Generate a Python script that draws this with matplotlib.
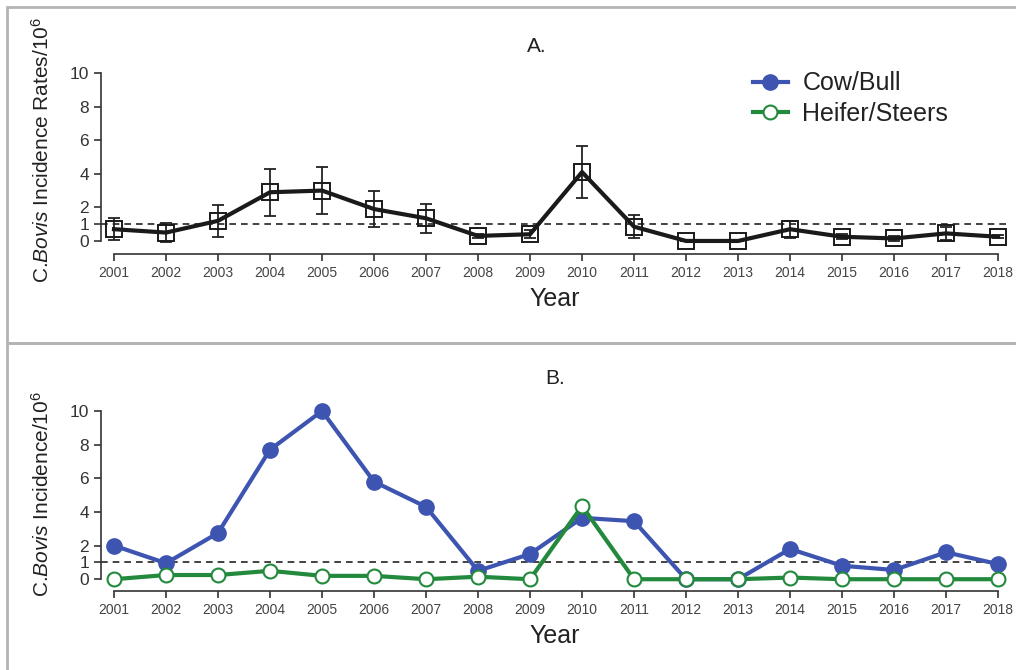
import matplotlib
matplotlib.use('Agg')
import matplotlib.pyplot as plt
from matplotlib.lines import Line2D
from matplotlib.patches import Rectangle

plt.rcParams['font.family'] = ['Liberation Sans', 'DejaVu Sans']
plt.rcParams['mathtext.fontset'] = 'custom'
plt.rcParams['mathtext.rm'] = 'Liberation Sans'
plt.rcParams['mathtext.it'] = 'Liberation Sans:italic'

# ─── Data ─────────────────────────────────────────────
years = list(range(2001, 2019))
rate_mean = [0.7, 0.5, 1.2, 2.9, 3.0, 1.9, 1.35, 0.3, 0.4, 4.1,
             0.85, 0.0, 0.0, 0.7, 0.25, 0.15, 0.45, 0.25]
rate_err = [0.65, 0.55, 0.95, 1.4, 1.4, 1.05, 0.85, 0.1, 0.25, 1.55,
            0.7, 0.0, 0.0, 0.5, 0.15, 0.15, 0.4, 0.1]
cow_bull = [2.0, 0.95, 2.75, 7.7, 10.0, 5.8, 4.3, 0.5, 1.5, 3.65,
            3.45, 0.0, 0.0, 1.8, 0.8, 0.55, 1.6, 0.9]
heifer_steers = [0.0, 0.25, 0.25, 0.5, 0.2, 0.2, 0.0, 0.15, 0.0, 4.35,
                 0.0, 0.0, 0.0, 0.1, 0.0, 0.0, 0.0, 0.0]
y_ticks = [0, 1, 2, 4, 6, 8, 10]

BLUE = '#3D55B0'
GREEN = '#23893D'
BORDER = '#B4B4B4'

fig = plt.figure(figsize=(10.16, 6.70), dpi=100)
fig.patch.set_facecolor('white')

# panel frames
fig.add_artist(Rectangle((7 / 1016, 1 - 343 / 670), 1.2, 336 / 670,
                         transform=fig.transFigure, fill=False, ec=BORDER, lw=2))
fig.add_artist(Rectangle((7 / 1016, -0.2), 1.2, 1 - 343 / 670 + 0.2,
                         transform=fig.transFigure, fill=False, ec=BORDER, lw=2))

axA = fig.add_axes([101 / 1016, 1 - 254.4 / 670, 908 / 1016, 189.8 / 670])
axB = fig.add_axes([101 / 1016, 1 - 591 / 670, 908 / 1016, 188.4 / 670])


def style_axis(ax, ybottom):
    ax.set_xlim(2000.75, 2018.21)
    ax.set_ylim(ybottom, 10.5)
    for s in ['top', 'right']:
        ax.spines[s].set_visible(False)
    ax.spines['left'].set_bounds(0, 10)
    ax.spines['bottom'].set_bounds(2001, 2018)
    for s in ['left', 'bottom']:
        ax.spines[s].set_linewidth(1.2)
        ax.spines[s].set_color('#333333')
    ax.set_yticks(y_ticks)
    ax.set_xticks(years)
    ax.tick_params(axis='y', labelsize=12.5, length=5, width=1.2,
                   colors='#333333', labelcolor='#333333')
    ax.tick_params(axis='x', labelsize=10, length=5, width=1.2,
                   colors='#333333', labelcolor='#444444')
    ax.axhline(1, color='#222222', ls=(0, (4, 3)), lw=1.2, zorder=1)
    ax.set_xlabel('Year', fontsize=18, color='#222222', labelpad=5)
    ax.patch.set_alpha(0)


# ─── Panel A ─────────────────────────────────────────
style_axis(axA, -0.8)
axA.errorbar(years, rate_mean, yerr=rate_err, fmt='none', ecolor='#222222',
             elinewidth=1.3, capsize=4, capthick=1.3, zorder=2)
axA.plot(years, rate_mean, color='#1a1a1a', lw=3, zorder=3)
axA.plot(years, rate_mean, ls='none', marker='s', ms=11, mfc='none',
         mec='#1a1a1a', mew=1.4, zorder=4)
axA.set_ylabel(r'C.$\it{Bovis}$ Incidence Rates/10$^6$', fontsize=15,
               color='#222222')
axA.yaxis.set_label_coords(-0.053, 0.55)
fig.text(537 / 1016, 1 - 46 / 670, 'A.', fontsize=15, ha='center', va='center',
         color='#222222')

# ─── Panel B ─────────────────────────────────────────
style_axis(axB, -0.7)
axB.plot(years, cow_bull, color=BLUE, lw=3, marker='o', ms=11,
         mfc=BLUE, mec=BLUE, zorder=3, label='Cow/Bull')
axB.plot(years, heifer_steers, color=GREEN, lw=3, marker='o', ms=10,
         mfc='white', mec=GREEN, mew=1.5, zorder=4, label='Heifer/Steers')
axB.set_ylabel(r'C.$\it{Bovis}$ Incidence/10$^6$', fontsize=15,
               color='#222222')
axB.yaxis.set_label_coords(-0.053, 0.515)
fig.text(555 / 1016, 1 - 379 / 670, 'B.', fontsize=15, ha='center', va='center',
         color='#222222')

# ─── Legend ──────────────────────────────────────────
handles = [Line2D([], [], color=BLUE, lw=3, marker='o', ms=11, mfc=BLUE, mec=BLUE),
           Line2D([], [], color=GREEN, lw=3, marker='o', ms=10, mfc='white',
                  mec=GREEN, mew=1.5)]
fig.legend(handles, ['Cow/Bull', 'Heifer/Steers'], loc='upper left',
           bbox_to_anchor=(730 / 1016, 1 - 49 / 670), frameon=False,
           fontsize=18, handlelength=1.4, handletextpad=0.6, labelspacing=0.25,
           labelcolor='#222222')

plt.savefig('out.png', dpi=100, facecolor='white')
plt.close()
